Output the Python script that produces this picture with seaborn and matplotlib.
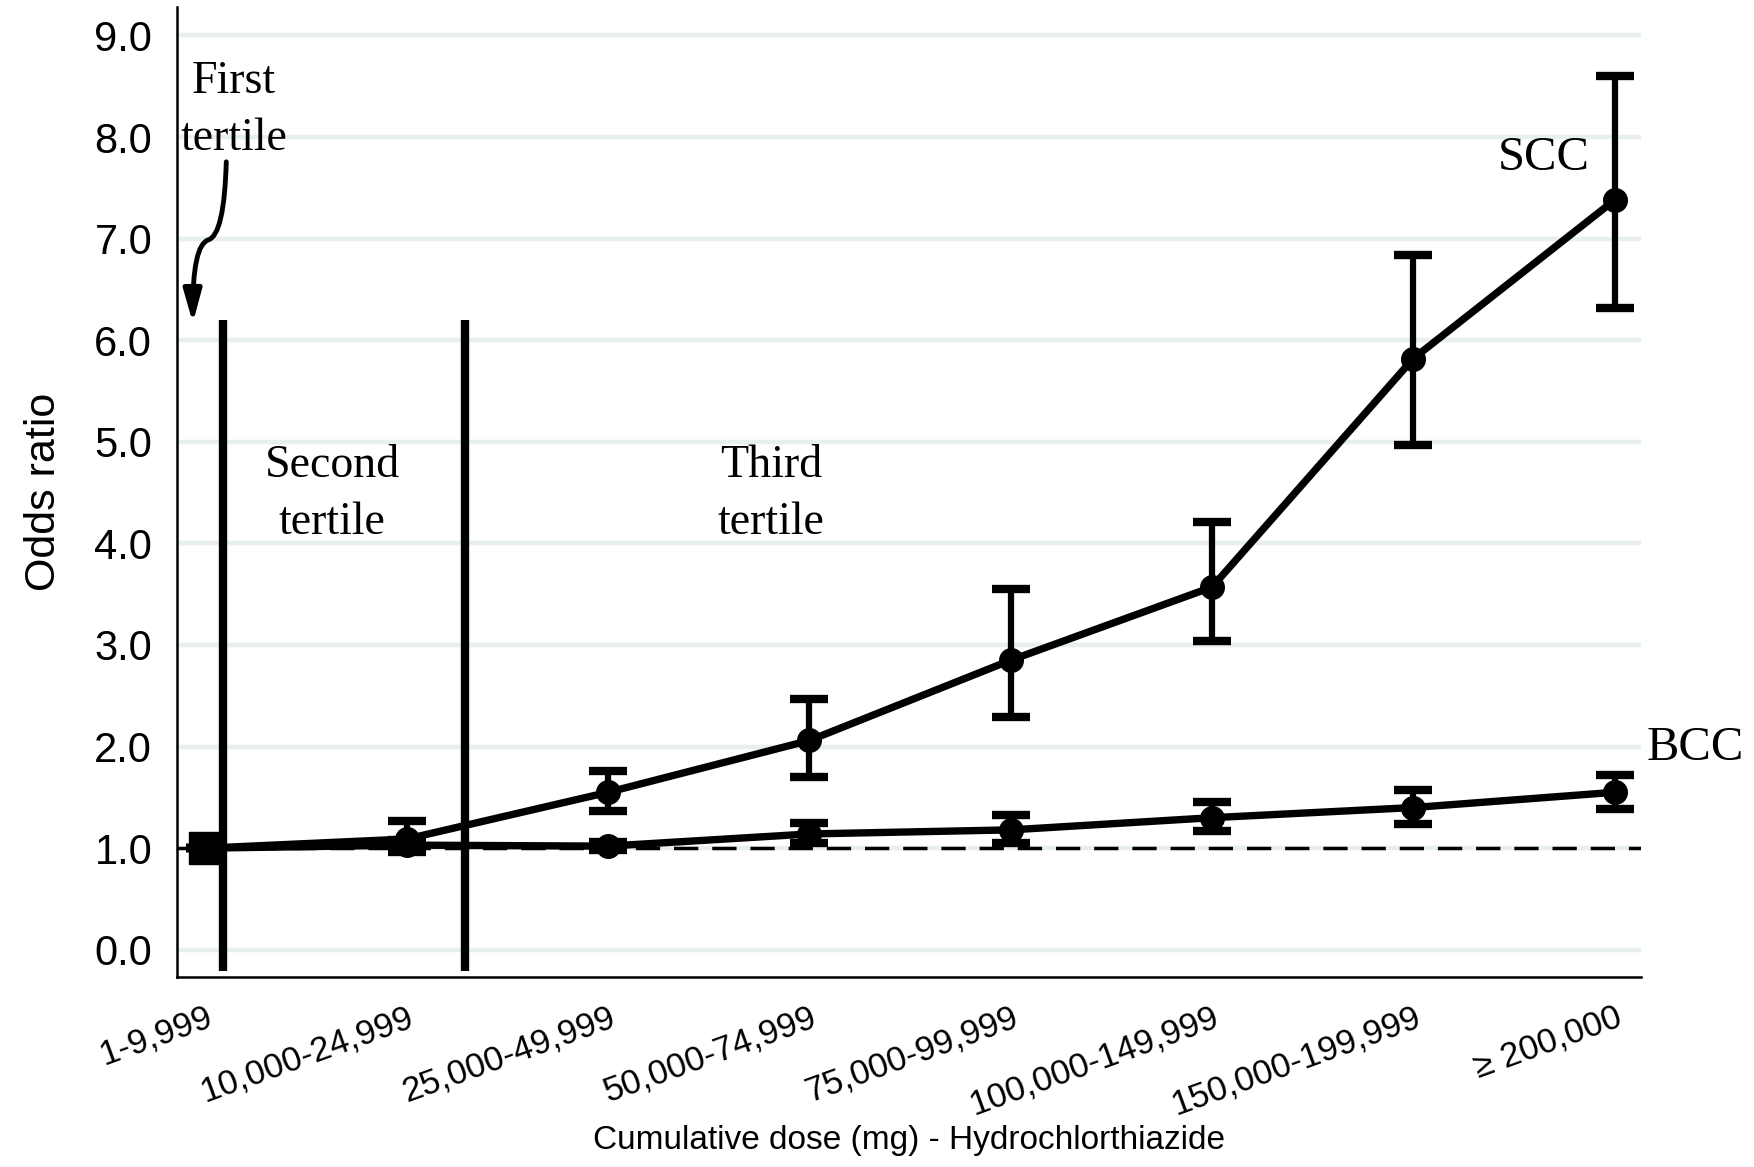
import matplotlib
matplotlib.use("Agg")
import matplotlib.pyplot as plt
from matplotlib.path import Path
from matplotlib.patches import FancyArrowPatch, ArrowStyle
import numpy as np
import pandas as pd
import seaborn as sns

# ---------------- data ----------------
dose_labels = ["1-9,999", "10,000-24,999", "25,000-49,999", "50,000-74,999",
               "75,000-99,999", "100,000-149,999", "150,000-199,999", "\u2265 200,000"]
scc_or = [1.0, 1.09, 1.55, 2.06, 2.85, 3.57, 5.82, 7.38]
scc_lo = [1.0, 0.96, 1.37, 1.70, 2.29, 3.04, 4.97, 6.32]
scc_hi = [1.0, 1.27, 1.76, 2.47, 3.55, 4.21, 6.84, 8.60]
bcc_or = [1.0, 1.03, 1.02, 1.14, 1.18, 1.30, 1.40, 1.55]
bcc_lo = [1.0, 0.98, 0.98, 1.05, 1.05, 1.17, 1.24, 1.39]
bcc_hi = [1.0, 1.08, 1.06, 1.25, 1.33, 1.45, 1.57, 1.72]
y_ticks = [0, 1, 2, 3, 4, 5, 6, 7, 8, 9]
reference_or = 1.0

sns.set_style("white")
plt.rcParams['font.family'] = ['Liberation Sans', 'DejaVu Sans']
plt.rcParams['text.color'] = 'black'
plt.rcParams['axes.labelcolor'] = 'black'
plt.rcParams['xtick.color'] = 'black'
plt.rcParams['ytick.color'] = 'black'

x = np.arange(len(dose_labels))
df = pd.DataFrame({
    "x": np.concatenate([x, x]),
    "OR": scc_or + bcc_or,
    "type": ["SCC"] * len(x) + ["BCC"] * len(x),
})

fig = plt.figure(figsize=(17.54, 11.67), dpi=100)
ax = fig.add_axes([0.101, 0.163, 0.8345, 0.831])

# grid
for yt in y_ticks:
    ax.axhline(yt, color="#e8eff1", lw=3.2, zorder=0)

# reference dashed line
ax.axhline(reference_or, color="black", lw=2.5, dashes=(7, 4), zorder=1)

# lines with markers
sns.lineplot(data=df, x="x", y="OR", units="type", estimator=None,
             color="black", lw=5.3, marker="o", markersize=18,
             markeredgewidth=0, ax=ax, zorder=4, legend=False)

# error bars
for vals, lo, hi in [(scc_or, scc_lo, scc_hi), (bcc_or, bcc_lo, bcc_hi)]:
    v = np.array(vals)
    yerr = np.vstack([v - np.array(lo), np.array(hi) - v])
    ax.errorbar(x, v, yerr=yerr, fmt="none", ecolor="black", elinewidth=4.5,
                capsize=14, capthick=6, zorder=5)

# reference category marker
ax.scatter([x[0]], [scc_or[0]], marker="s", s=560, color="black", zorder=6)

# tertile boundaries
for xb in [0.09, 1.29]:
    ax.plot([xb, xb], [-0.21, 6.2], color="black", lw=6, zorder=3,
            solid_capstyle="butt", clip_on=False)

# text annotations
serif = ['Liberation Serif', 'DejaVu Serif']
ax.text(0.14, 8.26, "First\ntertile", ha="center", va="center", fontsize=33,
        family=serif, linespacing=1.45)
ax.text(0.63, 4.48, "Second\ntertile", ha="center", va="center", fontsize=33,
        family=serif, linespacing=1.45)
ax.text(2.81, 4.48, "Third\ntertile", ha="center", va="center", fontsize=33,
        family=serif, linespacing=1.45)
ax.text(6.65, 7.79, "SCC", ha="center", va="center", fontsize=35, family=serif)
ax.text(7.16, 1.99, "BCC", ha="left", va="center", fontsize=35, family=serif,
        clip_on=False)

# curvy arrow
verts = [(0.104, 7.756), (0.094, 7.037), (0.015, 6.988), (-0.065, 6.939), (-0.062, 6.17)]
codes = [Path.MOVETO, Path.CURVE3, Path.CURVE3, Path.CURVE3, Path.CURVE3]
arrow = FancyArrowPatch(path=Path(verts, codes),
                        arrowstyle=ArrowStyle("-|>", head_length=0.9, head_width=0.25),
                        mutation_scale=22, lw=3.5, color="black", clip_on=False,
                        zorder=7)
ax.add_patch(arrow)

# axes
ax.set_xlim(-0.14, 7.13)
ax.set_ylim(-0.266, 9.28)
ax.set_yticks(y_ticks)
ax.set_yticklabels([f"{v:.1f}" for v in y_ticks], fontsize=30)
ax.set_xticks(x)
ax.set_xticklabels(dose_labels, fontsize=25, rotation=20, ha="right",
                   va="top", rotation_mode="anchor")
ax.tick_params(axis="both", direction="out", length=12, width=1.6, color="black")
ax.tick_params(axis="y", pad=6)
ax.tick_params(axis="x", pad=5)
ax.set_xlabel("Cumulative dose (mg) - Hydrochlorthiazide", fontsize=24, labelpad=3)
ax.set_ylabel("Odds ratio", fontsize=31, labelpad=22)
for s in ["top", "right"]:
    ax.spines[s].set_visible(False)
for s in ["left", "bottom"]:
    ax.spines[s].set_linewidth(1.8)
    ax.spines[s].set_color("black")
ax.grid(False)

fig.savefig("out.png", dpi=100)
